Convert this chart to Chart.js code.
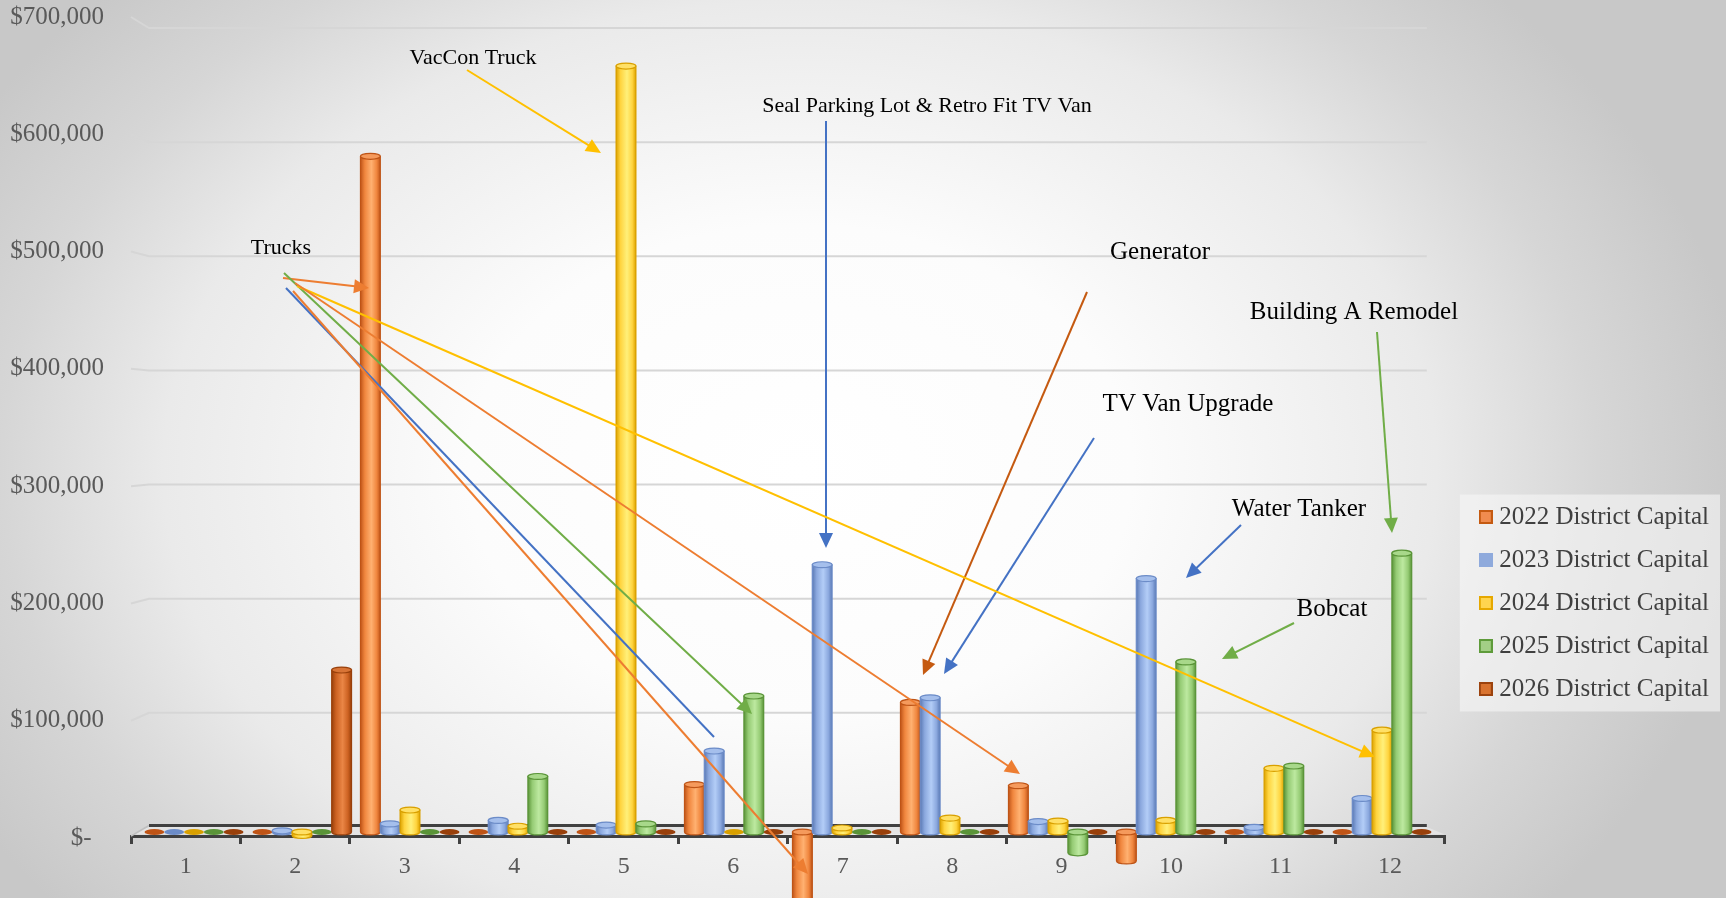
<!DOCTYPE html>
<html>
<head>
<meta charset="utf-8">
<title>District Capital</title>
<script src="https://cdn.jsdelivr.net/npm/chart.js@4.4.0/dist/chart.umd.min.js"></script>
<style>
  html, body { margin: 0; padding: 0; width: 1726px; height: 898px; overflow: hidden; }
  body {
    background: radial-gradient(ellipse 950px 700px at 800px 470px,
      #ffffff 0%, #fcfcfc 35%, #eaeaea 67%, #d6d6d6 84%, #c8c8c8 100%);
  }
  canvas { display: block; }
</style>
</head>
<body>
<canvas id="capitalChart" width="1726" height="1206"></canvas>
<script>
// === data ===
const categories = ["1", "2", "3", "4", "5", "6", "7", "8", "9", "10", "11", "12"];
const seriesNames = ["2022 District Capital", "2023 District Capital", "2024 District Capital",
                     "2025 District Capital", "2026 District Capital"];
const capital2022 = [0, 0, 584000, 0, 0, 41000, -80000, 112000, 40000, -25000, 0, 0];
const capital2023 = [0, 1000, 7000, 10000, 6000, 70000, 231000, 116000, 9000, 219000, 4000, 29000];
const capital2024 = [0, -3000, 19000, 5000, 662000, 0, 3500, 12000, 9500, 10000, 55000, 88000];
const capital2025 = [0, 0, 0, 48000, 7000, 117500, 0, 0, -18000, 147000, 57000, 241000];
const capital2026 = [0, 140000, 0, 0, 0, 0, 0, 0, 0, 0, 0, 0];
const yTickValues = [0, 100000, 200000, 300000, 400000, 500000, 600000, 700000];

// === callouts (text + arrows drawn over the chart) ===
const callouts = [
  { text: "Trucks", x: 281, y: 248, size: 22 },
  { text: "VacCon Truck", x: 473, y: 58, size: 22 },
  { text: "Seal Parking Lot & Retro Fit TV Van", x: 927, y: 106, size: 22 },
  { text: "Generator", x: 1160, y: 252, size: 25 },
  { text: "TV Van Upgrade", x: 1188, y: 404, size: 25 },
  { text: "Water Tanker", x: 1299, y: 509, size: 25 },
  { text: "Bobcat", x: 1332, y: 609, size: 25 },
  { text: "Building A Remodel", x: 1354, y: 312, size: 25 }
];
const arrows = [
  { from: [467, 70], to: [601, 153], color: "#FFC000" },
  { from: [826, 121], to: [826, 548], color: "#4472C4" },
  { from: [1087, 292], to: [923, 675], color: "#C55A11" },
  { from: [1094, 438], to: [944, 674], color: "#4472C4" },
  { from: [1241, 525], to: [1186, 578], color: "#4472C4" },
  { from: [1294, 623], to: [1222, 659], color: "#70AD47" },
  { from: [1377, 332], to: [1392, 533], color: "#70AD47" },
  { from: [283, 278], to: [369, 288], color: "#ED7D31" },
  { from: [284, 273], to: [752, 714], color: "#70AD47" },
  { from: [297, 286], to: [1375, 757], color: "#FFC000" },
  { from: [295, 283], to: [1020, 774], color: "#ED7D31" },
  { from: [286, 288], to: [714, 737], color: "#4472C4", head: false },
  { from: [293, 291], to: [808, 874], color: "#ED7D31" }
];

// === cylinder colours per series ===
const palettes = [
  { fill: "#F08C4F", border: "#C55A11", dark: "#C0561A", mid: "#F0863E", light: "#FFB171", cap: "#F59A5C", edge: "#BF5416" },
  { fill: "#8FAADC", border: "#8FAADC", dark: "#5B7AB5", mid: "#8BA8DE", light: "#B3CDF7", cap: "#A5BFEC", edge: "#6C8CC8" },
  { fill: "#FFD54F", border: "#E6A800", dark: "#DDA300", mid: "#FFD43F", light: "#FFF07A", cap: "#FFE066", edge: "#D9A000" },
  { fill: "#A3CF86", border: "#5E9B3A", dark: "#5A9438", mid: "#95CB74", light: "#BDE9A0", cap: "#A8D88A", edge: "#5A9438" },
  { fill: "#D9732F", border: "#9C430E", dark: "#99400B", mid: "#CD6222", light: "#EA8646", cap: "#D87436", edge: "#99400B" }
];

// === 3D geometry of the Excel picture ===
const BACK_ZERO = 827, BACK_PX = 799 / 700000;    // gridlines on the back wall
const FRONT_ZERO = 838, FRONT_PX = 821 / 700000;  // tick labels on the front edge
const MID_ZERO = 832, MID_PX = 1.157 / 1000;      // bars stand mid-depth
const CANVAS_H = 1206, AREA_TOP = 16, AREA_BOTTOM = CANVAS_H - 16;
const DEPTH_X = 18, FLOOR_FRONT = 836;
const MID_LEFT = 140, MID_WIDTH = 1296;
const SERIF = '"Liberation Serif", "Times New Roman", serif';

function money(v) {
  if (v === 0) return "$-  ";
  return "$" + Math.abs(v).toLocaleString("en-US");
}

// small square used as legend marker
function legendSwatch(pal) {
  const c = document.createElement("canvas");
  c.width = 14; c.height = 14;
  const g = c.getContext("2d");
  g.fillStyle = pal.fill;
  g.fillRect(0, 0, 14, 14);
  g.strokeStyle = pal.border;
  g.lineWidth = 2;
  g.strokeRect(1, 1, 12, 12);
  return c;
}
const swatches = palettes.map(legendSwatch);

// bar pixel -> mid-depth pixel
function toMid(chart, px, py) {
  const a = chart.chartArea;
  const y0 = chart.scales.y.getPixelForValue(0);
  return [MID_LEFT + (px - a.left) * MID_WIDTH / a.width,
          MID_ZERO + (py - y0) * MID_PX / BACK_PX];
}

function drawCylinder(ctx, left, right, top, bottom, pal) {
  const cx = (left + right) / 2, rx = (right - left) / 2, ry = Math.max(2.5, rx * 0.3);
  const g = ctx.createLinearGradient(left, 0, right, 0);
  g.addColorStop(0, pal.dark);
  g.addColorStop(0.22, pal.mid);
  g.addColorStop(0.55, pal.light);
  g.addColorStop(0.82, pal.mid);
  g.addColorStop(1, pal.dark);
  ctx.lineWidth = 1.2;
  ctx.strokeStyle = pal.edge;
  if (bottom - top > 0.5) {
    ctx.beginPath();
    ctx.moveTo(left, top);
    ctx.lineTo(left, bottom);
    ctx.ellipse(cx, bottom, rx, ry, 0, Math.PI, 0, true);
    ctx.lineTo(right, top);
    ctx.closePath();
    ctx.fillStyle = g;
    ctx.fill();
    ctx.stroke();
    ctx.beginPath();
    ctx.ellipse(cx, top, rx, ry, 0, 0, Math.PI * 2);
    ctx.fillStyle = pal.cap;
    ctx.fill();
    ctx.stroke();
  } else {
    ctx.beginPath();
    ctx.ellipse(cx, top, rx, ry, 0, 0, Math.PI * 2);
    ctx.fillStyle = pal.edge;
    ctx.fill();
  }
}

function drawArrow(ctx, a) {
  const [x1, y1] = a.from, [x2, y2] = a.to;
  const ang = Math.atan2(y2 - y1, x2 - x1);
  const head = a.head === false ? 0 : 15;
  ctx.strokeStyle = a.color;
  ctx.fillStyle = a.color;
  ctx.lineWidth = 2;
  ctx.beginPath();
  ctx.moveTo(x1, y1);
  ctx.lineTo(x2 - head * 0.8 * Math.cos(ang), y2 - head * 0.8 * Math.sin(ang));
  ctx.stroke();
  if (head) {
    const bx = x2 - head * Math.cos(ang), by = y2 - head * Math.sin(ang);
    const nx = -Math.sin(ang) * 7, ny = Math.cos(ang) * 7;
    ctx.beginPath();
    ctx.moveTo(x2, y2);
    ctx.lineTo(bx + nx, by + ny);
    ctx.lineTo(bx - nx, by - ny);
    ctx.closePath();
    ctx.fill();
  }
}

// === plugins ===
const wallsPlugin = {
  id: "walls",
  beforeDraw(chart) {
    // light panel behind the legend
    const lg = chart.legend, hb = lg.legendHitBoxes;
    if (!hb || !hb.length) return;
    const ctx = chart.ctx;
    const first = hb[0], last = hb[hb.length - 1];
    const x0 = first.left - 25, y0 = first.top - 10;
    ctx.save();
    ctx.fillStyle = "rgba(246,246,246,0.6)";
    ctx.fillRect(x0, y0, lg.right + 1 - x0, last.top + last.height + 10 - y0);
    ctx.restore();
  },
  beforeDatasetsDraw(chart) {
    const ctx = chart.ctx, a = chart.chartArea;
    const yb = chart.scales.y, yf = chart.scales.yf;
    const backL = a.left + DEPTH_X, backR = a.right - DEPTH_X;
    ctx.save();
    ctx.strokeStyle = "#d6d6d6";
    ctx.lineWidth = 2;
    yTickValues.forEach(v => {
      if (v === 0) return;
      ctx.beginPath();
      ctx.moveTo(a.left, yf.getPixelForValue(v));
      ctx.lineTo(backL, yb.getPixelForValue(v));
      ctx.lineTo(backR, yb.getPixelForValue(v));
      ctx.stroke();
    });
    // floor
    const zb = yb.getPixelForValue(0);
    ctx.fillStyle = "#e4e4e4";
    ctx.beginPath();
    ctx.moveTo(a.left, FLOOR_FRONT - 1.5);
    ctx.lineTo(backL, zb);
    ctx.lineTo(backR, zb);
    ctx.lineTo(a.right, FLOOR_FRONT - 1.5);
    ctx.closePath();
    ctx.fill();
    ctx.strokeStyle = "#bfbfbf";
    ctx.lineWidth = 1.5;
    ctx.beginPath();
    ctx.moveTo(a.left, FLOOR_FRONT);
    ctx.lineTo(backL, zb - 1.5);
    ctx.stroke();
    ctx.strokeStyle = "#404040";
    ctx.lineWidth = 3;
    ctx.beginPath();
    ctx.moveTo(backL, zb - 1.5);
    ctx.lineTo(backR, zb - 1.5);
    ctx.stroke();
    ctx.restore();

    // flat bars drawn by Chart.js go through the same mid-depth projection
    const y0 = yb.getPixelForValue(0);
    ctx.save();
    ctx.translate(MID_LEFT, MID_ZERO);
    ctx.scale(MID_WIDTH / a.width, MID_PX / BACK_PX);
    ctx.translate(-a.left, -y0);
  },
  afterDatasetsDraw(chart) {
    const ctx = chart.ctx;
    ctx.restore();
    ctx.save();
    chart.data.datasets.forEach((ds, i) => {
      const meta = chart.getDatasetMeta(i);
      meta.data.forEach(el => {
        const p = el.getProps(["x", "y", "base", "width"], true);
        const [l, t] = toMid(chart, p.x - p.width / 2, Math.min(p.y, p.base));
        const [r, b] = toMid(chart, p.x + p.width / 2, Math.max(p.y, p.base));
        drawCylinder(ctx, l, r, t, b, palettes[i]);
      });
    });
    ctx.restore();
  },
  afterDraw(chart) {
    const ctx = chart.ctx;
    ctx.save();
    arrows.forEach(a => drawArrow(ctx, a));
    ctx.fillStyle = "#000";
    ctx.textAlign = "center";
    ctx.textBaseline = "middle";
    callouts.forEach(c => {
      ctx.font = c.size + "px " + SERIF;
      ctx.fillText(c.text, c.x, c.y);
    });
    ctx.restore();
  }
};

const series = [capital2022, capital2023, capital2024, capital2025, capital2026];
const ctx = document.getElementById("capitalChart").getContext("2d");

new Chart(ctx, {
  type: "bar",
  data: {
    labels: categories,
    datasets: series.map((values, i) => ({
      label: seriesNames[i],
      data: values,
      backgroundColor: palettes[i].fill,
      borderColor: palettes[i].border,
      borderWidth: 2,
      categoryPercentage: 0.917,
      barPercentage: 1.0,
      xAxisID: "x",
      yAxisID: "y"
    }))
  },
  options: {
    responsive: false,
    animation: false,
    events: [],
    layout: { padding: { top: AREA_TOP, bottom: CANVAS_H - AREA_BOTTOM, left: 0, right: 7 } },
    plugins: {
      legend: {
        position: "right",
        align: "center",
        labels: {
          usePointStyle: true,
          pointStyleWidth: 2,
          boxHeight: 14,
          padding: 18,
          color: "#404040",
          font: { family: SERIF, size: 25 },
          generateLabels: chart =>
            Chart.defaults.plugins.legend.labels.generateLabels(chart)
              .map((item, i) => Object.assign(item, { pointStyle: swatches[i] }))
        }
      },
      tooltip: { enabled: false }
    },
    scales: {
      x: {
        type: "category",
        position: { y: (BACK_ZERO - FLOOR_FRONT) / BACK_PX },
        offset: true,
        grid: { display: true, drawOnChartArea: false, drawTicks: true, tickLength: 6,
                offset: true, color: "#404040", lineWidth: 3 },
        border: { display: true, color: "#404040", width: 3 },
        ticks: { color: "#595959", padding: 10, font: { family: SERIF, size: 24 } }
      },
      // front edge: carries the $ labels
      yf: {
        type: "linear",
        position: "left",
        min: (FRONT_ZERO - AREA_BOTTOM) / FRONT_PX,
        max: (FRONT_ZERO - AREA_TOP) / FRONT_PX,
        afterFit: s => { s.width = 131; },
        afterBuildTicks: s => { s.ticks = yTickValues.map(v => ({ value: v })); },
        grid: { display: false, drawTicks: true, tickLength: 27 },
        border: { display: false },
        ticks: { color: "#595959", padding: 0, font: { family: SERIF, size: 25 }, callback: v => money(v) }
      },
      // back wall: the bars and gridlines
      y: {
        type: "linear",
        position: "right",
        min: (BACK_ZERO - AREA_BOTTOM) / BACK_PX,
        max: (BACK_ZERO - AREA_TOP) / BACK_PX,
        afterFit: s => { s.width = 22; },
        grid: { display: false, drawTicks: false },
        border: { display: false },
        ticks: { display: false }
      }
    }
  },
  plugins: [wallsPlugin]
});
</script>
</body>
</html>
